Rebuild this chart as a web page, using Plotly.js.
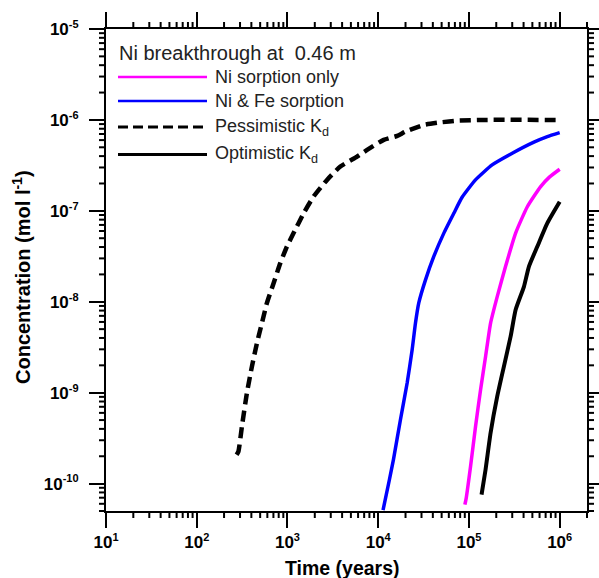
<!DOCTYPE html>
<html>
<head>
<meta charset="utf-8">
<script src="https://cdn.plot.ly/plotly-3.0.1.min.js"></script>
<style>html,body{margin:0;padding:0;background:#fff;}#chart{width:599px;height:578px;}</style>
</head>
<body>
<div id="chart"></div>
<script>
// ---- data ----
var pessT = [275, 288, 315, 357, 406, 461, 523, 594, 703, 833, 987, 1167, 1506, 1942, 2729, 3828, 5850, 7540, 11500, 16200, 19950, 31800, 48600, 74300, 145000, 1000000];
var pessC = [2.08e-10, 2.26e-10, 4.27e-10, 9.9e-10, 1.95e-9, 3.52e-9, 5.84e-9, 9.7e-9, 1.6e-8, 2.66e-8, 4.05e-8, 5.69e-8, 9.4e-8, 1.44e-7, 2.19e-7, 3.07e-7, 3.95e-7, 4.68e-7, 6.03e-7, 6.67e-7, 7.43e-7, 8.8e-7, 9.4e-7, 9.8e-7, 1.0e-6, 1.0e-6];

var blueT = [11300, 13300, 14720, 17580, 20840, 23660, 25750, 28000, 33200, 41000, 52900, 68100, 84000, 118000, 180000, 300000, 520000, 731000, 1000000];
var blueC = [5.1e-11, 1.11e-10, 1.84e-10, 5.05e-10, 1.28e-9, 2.97e-9, 5.83e-9, 9.7e-9, 1.74e-8, 3.15e-8, 5.69e-8, 9.4e-8, 1.41e-7, 2.19e-7, 3.2e-7, 4.3e-7, 5.69e-7, 6.55e-7, 7.24e-7];

var magT = [90200, 93400, 104200, 118300, 134300, 152500, 173100, 205000, 253000, 327000, 440000, 617000, 770000, 1000000];
var magC = [5.87e-11, 6.97e-11, 1.55e-10, 4.27e-10, 1.08e-9, 2.5e-9, 5.83e-9, 1.14e-8, 2.44e-8, 5.69e-8, 1.11e-7, 1.85e-7, 2.35e-7, 2.87e-7];

var optT = [137700, 152500, 173100, 205000, 243000, 288000, 327000, 404000, 458000, 567000, 731000, 1000000];
var optC = [7.57e-11, 1.43e-10, 3.6e-10, 9.1e-10, 1.95e-9, 4.16e-9, 8.17e-9, 1.47e-8, 2.44e-8, 4.05e-8, 7.33e-8, 1.26e-7];

var seriesNames = ["Ni sorption only", "Ni & Fe sorption", "Pessimistic K<sub>d</sub>", "Optimistic K<sub>d</sub>"];
var legendTitle = "Ni breakthrough at&nbsp; 0.46 m";
var xTitle = "Time (years)";
var yTitle = "Concentration (mol l<sup>-1</sup>)";

// axis tick values and labels (exponents drawn small)
function sup(s) { return "10<sup><span style=\"font-size:11px\">" + s + "</span></sup>"; }
var xTickVals = [1e1, 1e2, 1e3, 1e4, 1e5, 1e6];
var xTickText = [sup("1"), sup("2"), sup("3"), sup("4"), sup("5"), sup("6")];
var yTickVals = [1e-10, 1e-9, 1e-8, 1e-7, 1e-6, 1e-5];
var yTickText = [sup("-10"), sup("-9"), sup("-8"), sup("-7"), sup("-6"), sup("-5")];

var FONT = "Liberation Sans, Arial, Helvetica, sans-serif";

var traces = [
  {x: magT, y: magC, name: seriesNames[0], mode: "lines", hoverinfo: "skip", line: {color: "#ff00ff", width: 3.5, shape: "spline", smoothing: 0.5}},
  {x: blueT, y: blueC, name: seriesNames[1], mode: "lines", hoverinfo: "skip", line: {color: "#0000ff", width: 3.5, shape: "spline", smoothing: 0.5}},
  {x: pessT, y: pessC, name: seriesNames[2], mode: "lines", hoverinfo: "skip", line: {color: "#000000", width: 4.5, dash: "11px,6px", shape: "spline", smoothing: 0.5}},
  {x: optT, y: optC, name: seriesNames[3], mode: "lines", hoverinfo: "skip", line: {color: "#000000", width: 4, shape: "spline", smoothing: 0.5}}
];

var L = 106, T = 29, W = 481, H = 482;
var XR = [0.99995, 6.30108], YR = [-10.30108, -4.99995];
function px(x) { return (x - L) / W; }
function py(y) { return (T + H - y) / H; }
function logToPaperX(v) { return (v - XR[0]) / (XR[1] - XR[0]); }
function logToPaperY(v) { return (v - YR[0]) / (YR[1] - YR[0]); }

var shapes = [], annotations = [];

// minor ticks (2..9 in each decade) on all four sides, pointing outward
var MINLEN = 7;
function tk(x0, x1, y0, y1) {
  return {type: "line", xref: "paper", yref: "paper", x0: x0, x1: x1, y0: y0, y1: y1, line: {color: "black", width: 2}};
}
for (var dx = 1; dx <= 6; dx++) for (var mx = 2; mx <= 9; mx++) {
  var lx = Math.log10(mx) + dx;
  if (lx > XR[1]) continue;
  var xp = logToPaperX(lx);
  shapes.push(tk(xp, xp, 0, -MINLEN / H));
  shapes.push(tk(xp, xp, 1, 1 + MINLEN / H));
}
for (var dy = -11; dy <= -6; dy++) for (var my = 2; my <= 9; my++) {
  var ly = Math.log10(my) + dy;
  if (ly < YR[0] || ly > YR[1]) continue;
  var yp = logToPaperY(ly);
  shapes.push(tk(0, -MINLEN / W, yp, yp));
  shapes.push(tk(1, 1 + MINLEN / W, yp, yp));
}

// legend drawn inside the plot, like the reference
var legY = [77, 101, 127, 154.5];
var legStyles = [
  {color: "#ff00ff", width: 2.5, dash: "solid"},
  {color: "#0000ff", width: 2.5, dash: "solid"},
  {color: "#000000", width: 3, dash: "10px,5px"},
  {color: "#000000", width: 3.2, dash: "solid"}
];
for (var i = 0; i < 4; i++) {
  shapes.push({type: "line", xref: "paper", yref: "paper", x0: px(118), x1: px(207), y0: py(legY[i]), y1: py(legY[i]), line: legStyles[i]});
  annotations.push({xref: "paper", yref: "paper", x: px(213), y: py(legY[i]), xanchor: "left", yanchor: "middle", showarrow: false,
    text: seriesNames[i], font: {family: FONT, size: 18, color: "#222"}});
}
annotations.push({xref: "paper", yref: "paper", x: px(117), y: py(53), xanchor: "left", yanchor: "middle", showarrow: false,
  text: legendTitle, font: {family: FONT, size: 20, color: "#222"}});

// axis titles
annotations.push({xref: "paper", yref: "paper", x: px(342.5), y: py(568), xanchor: "center", yanchor: "middle", showarrow: false,
  text: xTitle, font: {family: FONT, size: 19.5, color: "#000", weight: "bold"}});
annotations.push({xref: "paper", yref: "paper", x: px(21), y: py(277), xanchor: "center", yanchor: "middle", showarrow: false,
  textangle: -90, text: yTitle, font: {family: FONT, size: 20, color: "#000", weight: "bold"}});

var axisCommon = {
  type: "log", showgrid: false, zeroline: false, showline: true, linewidth: 2, linecolor: "#000",
  mirror: "allticks", ticks: "outside", ticklen: 15, tickwidth: 2, tickcolor: "#000",
  tickmode: "array",
  tickfont: {family: FONT, size: 17, color: "#000", weight: "bold"}
};

var layout = {
  width: 599, height: 578,
  margin: {l: L, r: 599 - L - W, t: T, b: 578 - T - H},
  showlegend: false, hovermode: false,
  xaxis: Object.assign({}, axisCommon, {range: XR, tickvals: xTickVals, ticktext: xTickText, ticklabelstandoff: 0}),
  yaxis: Object.assign({}, axisCommon, {range: YR, tickvals: yTickVals, ticktext: yTickText, ticklabelstandoff: 7}),
  shapes: shapes,
  annotations: annotations
};

Plotly.newPlot("chart", traces, layout, {displayModeBar: false});
</script>
</body>
</html>
